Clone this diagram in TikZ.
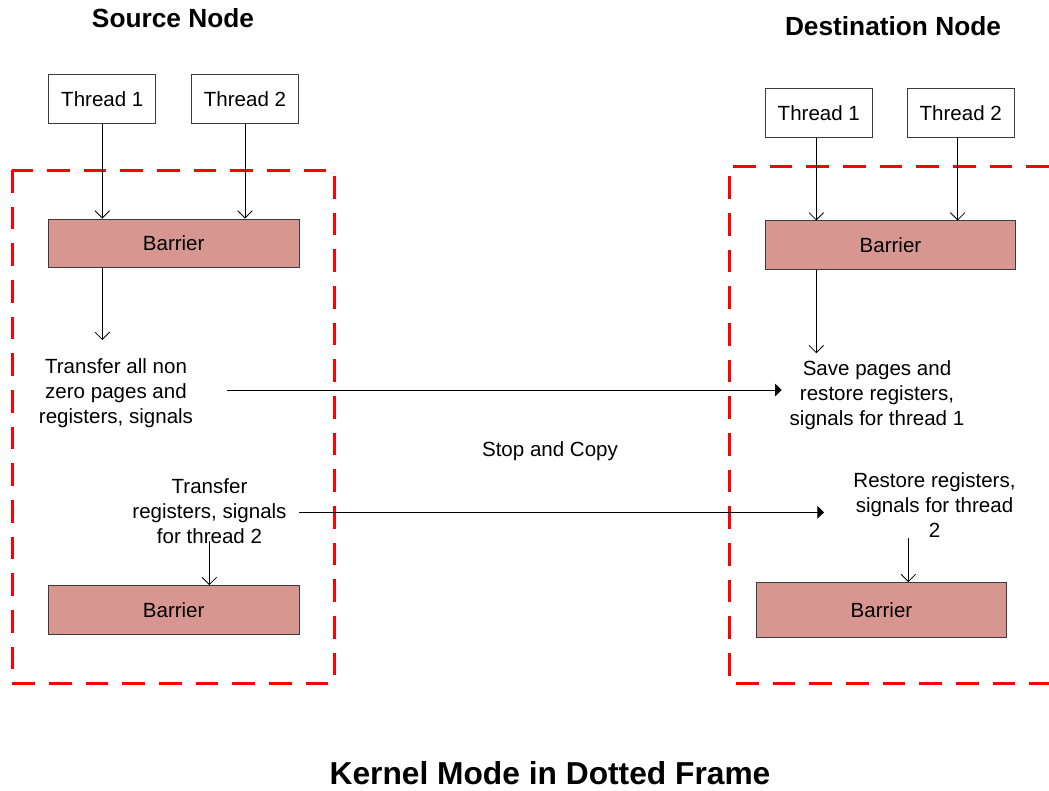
\documentclass[tikz,border=0pt]{standalone}
\usepackage{fontspec}
\setmainfont{Liberation Sans}
\usetikzlibrary{arrows.meta}
\definecolor{barrierfill}{RGB}{216,150,144}
\definecolor{boxline}{RGB}{60,60,60}
\tikzset{
  body/.style={font=\fontsize{15.4}{18.75}\selectfont, align=center, inner sep=0pt},
  threadbox/.style={draw=boxline, line width=0.75pt, minimum width=80.5pt, minimum height=37pt, inner sep=0pt, font=\fontsize{15.4}{18.75}\selectfont},
  barrierbox/.style={draw=boxline, fill=barrierfill, line width=0.75pt, minimum width=188pt, minimum height=36.5pt, inner sep=0pt, font=\fontsize{15.4}{18.75}\selectfont},
  openarrow/.style={draw=black, line width=0.7pt, -{Straight Barb[length=5.5pt,width=11pt,line width=0.6pt]}},
  fillarrow/.style={draw=black, line width=0.7pt, -{Triangle[length=5pt,width=9.5pt]}},
  kframe/.style={draw=red, line width=2.25pt, dash pattern=on 17pt off 10.5pt},
  title/.style={font=\bfseries\fontsize{19.7}{23}\selectfont, inner sep=0pt},
  bigtitle/.style={font=\bfseries\fontsize{23.8}{28}\selectfont, inner sep=0pt}
}
\begin{document}
\begin{tikzpicture}[x=0.75pt, y=-0.75pt]
\useasboundingbox (0,0) rectangle (1049,790);

% frames
\draw[kframe] (12.3,170) rectangle (334.3,683.3);
\draw[kframe] (1049,166) -- (729.3,166) -- (729.3,683) -- (1049,683);

% titles
\node[title] (srct) at (173,18) {Source Node};
\node[title] (dstt) at (893,26) {Destination Node};
\node[bigtitle] (kern) at (550,773) {Kernel Mode in Dotted Frame};

% source side
\node[threadbox] (t1l) at (102.3,98.8) {Thread 1};
\node[threadbox] (t2l) at (245,98.8) {Thread 2};
\node[barrierbox] (b1l) at (173.7,243.4) {Barrier};
\node[barrierbox] (b2l) at (173.7,610) {Barrier};
\node[body] (tx1) at (116,393.5) {Transfer all non\\zero pages and\\registers, signals};
\node[body] (tx3) at (209.5,511.5) {Transfer\\registers, signals\\for thread 2};
\coordinate (c1) at (102.3,340);
\coordinate (a1s) at (226.7,390);
\coordinate (a2s) at (299.3,512.3);
\coordinate (c3) at (209.3,541);

% destination side
\node[threadbox] (t1r) at (818.8,113) {Thread 1};
\node[threadbox] (t2r) at (960.7,113) {Thread 2};
\node[barrierbox] (b1r) at (890.5,245.3) {Barrier};
\node[barrierbox, minimum height=41pt] (b2r) at (881.5,610) {Barrier};
\node[body] (tx2) at (877,395) {Save pages and\\restore registers,\\signals for thread 1};
\node[body] (tx4) at (934.5,505.5) {Restore registers,\\signals for thread\\2};
\node[body] (stop) at (550,451) {Stop and Copy};
\coordinate (c2) at (816.3,353.3);
\coordinate (c5) at (957.7,200);
\coordinate (a1e) at (781.7,390);
\coordinate (a2e) at (824,512.3);
\coordinate (c4) at (908.3,537.7);

% connectors source
\draw[openarrow] (t1l.south) -- (t1l.south |- b1l.north);
\draw[openarrow] (t2l.south) -- (t2l.south |- b1l.north);
\draw[openarrow] (b1l.south -| c1) -- (c1);
\draw[openarrow] (c3) -- (c3 |- b2l.north);

% connectors destination
\draw[openarrow] (t1r.south -| c2) -- (c2 |- b1r.north);
\draw[openarrow] (t2r.south -| c5) -- (c5 |- b1r.north);
\draw[openarrow] (b1r.south -| c2) -- (c2);
\draw[openarrow] (c4) -- (c4 |- b2r.north);

% transfers
\draw[fillarrow] (a1s) -- (a1e);
\draw[fillarrow] (a2s) -- (a2e);
\end{tikzpicture}
\end{document}
